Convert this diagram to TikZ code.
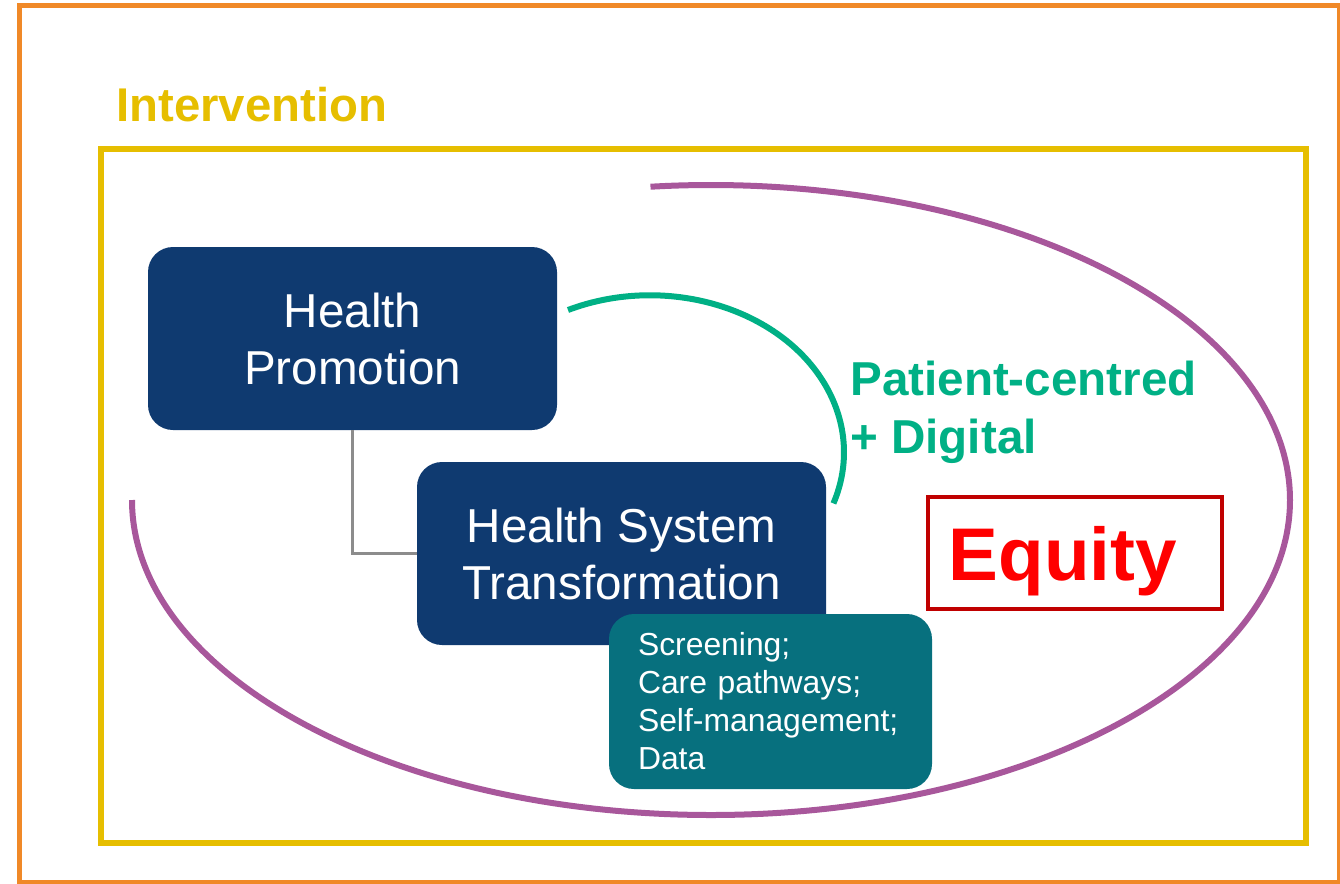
\documentclass[tikz,border=0pt]{standalone}
\usepackage{fontspec}
\setmainfont{Liberation Sans}
\usetikzlibrary{positioning}
\definecolor{frameorange}{RGB}{240,137,40}
\definecolor{framegold}{RGB}{230,190,0}
\definecolor{navybox}{RGB}{15,58,112}
\definecolor{tealbox}{RGB}{7,112,126}
\definecolor{leafgreen}{RGB}{0,176,133}
\definecolor{plum}{RGB}{168,87,155}
\definecolor{darkred}{RGB}{192,0,0}

\begin{document}
\begin{tikzpicture}[x=0.75pt,y=-0.75pt,
  bluebox/.style={fill=navybox, rounded corners=18.75pt, text=white, align=center,
    minimum width=306.75pt, minimum height=137.25pt, inner sep=0pt,
    font=\fontsize{35.7pt}{42.75pt}\selectfont},
  listbox/.style={fill=tealbox, rounded corners=18.75pt, text=white, align=left,
    text width=198.75pt, minimum height=131.25pt, inner xsep=21.75pt, inner ysep=0pt,
    font=\fontsize{23.9pt}{28.5pt}\selectfont},
  equitybox/.style={draw=darkred, line width=3pt, text=red, minimum width=220.5pt,
    minimum height=84pt, inner sep=0pt, text depth=0pt,
    font=\bfseries\fontsize{56pt}{60pt}\selectfont},
  link/.style={draw=gray!90, line width=2.25pt}
]
\useasboundingbox (0,0) rectangle (1340,883);
% frames
\draw[frameorange, line width=3.75pt] (19,5) rectangle (1339.5,882);
\draw[framegold, line width=4.5pt] (101,149) rectangle (1306,843);
\node[anchor=base west, text=framegold, inner sep=0pt,
  font=\bfseries\fontsize{35.5pt}{42pt}\selectfont] (title) at (116,121) {Intervention};

% equity ellipse and patient arc
\draw[plum, line width=4.5pt] (132,500) arc[start angle=180, end angle=-96, x radius=579, y radius=315];
\draw[leafgreen, line width=4.5pt] (568,310) arc[start angle=-115, end angle=19, x radius=194, y radius=157];

\node[bluebox] (hp) at (352.5,338.5) {Health\\Promotion};
\node[bluebox] (hst) at (621.5,553.5) {Health System\\Transformation};
\path[link] (hp.south) |- (hst.west);
\node[listbox] (tasks) at (770.5,701.5) {Screening;\\Care pathways;\\Self-management;\\Data};

\node[anchor=north west, align=left, text=leafgreen, inner sep=0pt,
  font=\bfseries\fontsize{35.7pt}{43.5pt}\selectfont] (pc) at (850,361) {Patient-centred\\+ Digital};
\node[equitybox] (eq) at (1075,553) {Equity\hspace*{18pt}};
\end{tikzpicture}
\end{document}
